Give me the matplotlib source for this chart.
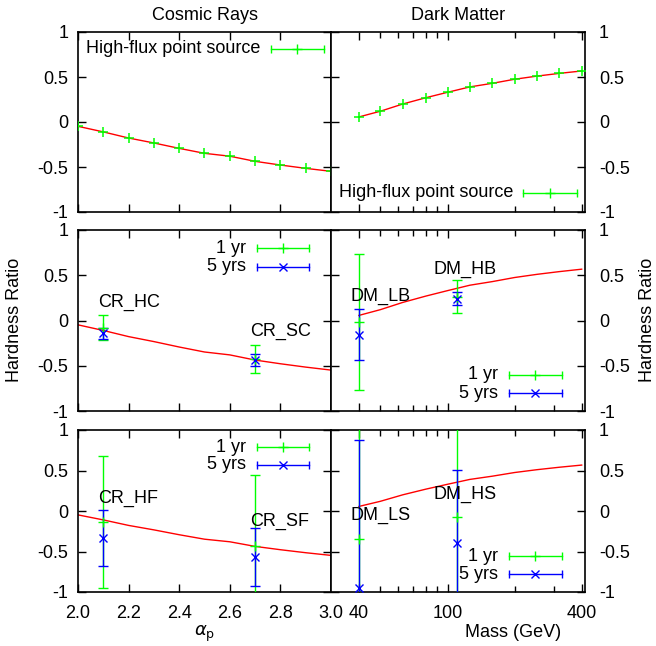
import numpy as np
import matplotlib
matplotlib.use('Agg')
import matplotlib.pyplot as plt
from matplotlib.ticker import FixedLocator, NullFormatter

plt.rcParams['font.family'] = ['Liberation Sans', 'DejaVu Sans']
plt.rcParams['font.size'] = 13
plt.rcParams['axes.unicode_minus'] = False

# high-flux point source curves
alpha_p = [2.0, 2.1, 2.2, 2.3, 2.4, 2.5, 2.6, 2.7, 2.8, 2.9, 3.0]
hr_cr = [-0.048, -0.11, -0.178, -0.233, -0.293, -0.348, -0.38, -0.437, -0.478, -0.515, -0.548]
mass = [40, 50, 63, 80, 100, 126, 159, 200, 252, 317, 400]
hr_dm = [0.056, 0.12, 0.20, 0.27, 0.33, 0.39, 0.43, 0.475, 0.51, 0.54, 0.567]

# benchmark sources
cr_x = [2.1, 2.7]
cr_c_names = ['CR_HC', 'CR_SC']
cr_c_1yr = [-0.08, -0.425]
cr_c_1yr_err = [0.137, 0.155]
cr_c_5yr = [-0.14, -0.435]
cr_c_5yr_err = [0.06, 0.065]

cr_f_names = ['CR_HF', 'CR_SF']
cr_f_1yr = [-0.14, -0.43]
cr_f_1yr_err = [0.815, 0.88]
cr_f_5yr = [-0.33, -0.57]
cr_f_5yr_err = [0.345, 0.36]

dm_x = [40, 110]
dm_b_names = ['DM_LB', 'DM_HB']
dm_b_1yr = [-0.02, 0.265]
dm_b_1yr_err = [0.75, 0.185]
dm_b_5yr = [-0.155, 0.24]
dm_b_5yr_err = [0.285, 0.07]

dm_s_names = ['DM_LS', 'DM_HS']
dm_s_1yr = [-0.34, -0.08]
dm_s_1yr_err = [1.6, 1.3]
dm_s_5yr = [-0.95, -0.40]
dm_s_5yr_err = [1.83, 0.906]

GREEN = '#00ff00'
BLUE = '#0000ff'
RED = '#ff0000'

W, H = 656, 646
fig = plt.figure(figsize=(W / 100, H / 100), dpi=100)


def axes_px(x0, x1, y0, y1):
    return fig.add_axes([x0 / W, 1 - y1 / H, (x1 - x0) / W, (y1 - y0) / H])


rows = [(32, 212), (230, 411), (430, 592)]
left_axes = [axes_px(78, 331, r0, r1) for r0, r1 in rows]
right_axes = [axes_px(331, 585, r0, r1) for r0, r1 in rows]

yt = [-1, -0.5, 0, 0.5, 1]
ytl = ['-1', '-0.5', '0', '0.5', '1']

for i, ax in enumerate(left_axes):
    ax.set_xlim(2.0, 3.0)
    ax.set_ylim(-1, 1)
    ax.set_xticks(np.arange(2.0, 3.01, 0.2))
    ax.set_xticklabels(['2.0', '2.2', '2.4', '2.6', '2.8', '3.0'])
    ax.set_yticks(yt)
    ax.set_yticklabels(ytl)
    ax.tick_params(direction='in', top=True, right=True, length=6, width=1)
    ax.tick_params(axis='y', pad=7)
    ax.tick_params(axis='x', pad=9)
    if i < 2:
        ax.tick_params(labelbottom=False)
    ax.plot(alpha_p, hr_cr, color=RED, lw=1, zorder=2)

for i, ax in enumerate(right_axes):
    ax.set_xscale('log')
    ax.set_xlim(30, 414)
    ax.set_ylim(-1, 1)
    ax.xaxis.set_major_locator(FixedLocator([40, 100, 400]))
    ax.xaxis.set_minor_locator(FixedLocator([50, 60, 70, 80, 90, 200, 300]))
    ax.xaxis.set_minor_formatter(NullFormatter())
    ax.set_xticklabels(['40', '100', '400'])
    ax.set_yticks(yt)
    ax.set_yticklabels(ytl)
    ax.tick_params(which='both', direction='in', top=True, left=True, right=True,
                   labelleft=False, labelright=True, width=1)
    ax.tick_params(which='major', length=6)
    ax.tick_params(which='minor', length=4)
    ax.tick_params(axis='y', pad=10)
    ax.tick_params(axis='x', pad=9)
    if i < 2:
        ax.tick_params(labelbottom=False)
    ax.plot(mass, hr_dm, color=RED, lw=1, zorder=2)

for ax in left_axes + right_axes:
    for s in ax.spines.values():
        s.set_linewidth(1.2)


def key(ax, y, label, color, marker, ms, tx, x0, x1):
    ax.text(tx, y, label, transform=ax.transAxes, ha='right', va='center')
    ax.plot([x0, x1], [y, y], color=color, lw=1, transform=ax.transAxes)
    ax.plot([x0, x1], [y, y], ls='none', marker='|', ms=6, mew=1, color=color,
            transform=ax.transAxes)
    ax.plot([(x0 + x1) / 2], [y], ls='none', marker=marker, ms=ms, mew=1,
            color=color, transform=ax.transAxes)


def bars(ax, x, y, err, color, marker, ms):
    ax.errorbar(x, y, yerr=err, fmt=marker, color=color, ms=ms, mew=1,
                elinewidth=1, capsize=3.5, capthick=1, zorder=3)


# top row: high-flux point source
ax = left_axes[0]
ax.plot(alpha_p, hr_cr, ls='none', marker='+', ms=7, mew=1.1, color=GREEN, zorder=3)
key(ax, 0.906, 'High-flux point source', GREEN, '+', 7, 0.72, 0.763, 0.972)
ax.set_title('Cosmic Rays', fontsize=13, pad=9)

ax = right_axes[0]
ax.plot(mass, hr_dm, ls='none', marker='+', ms=7, mew=1.1, color=GREEN, zorder=3)
key(ax, 0.106, 'High-flux point source', GREEN, '+', 7, 0.717, 0.756, 0.969)
ax.set_title('Dark Matter', fontsize=13, pad=9)

# middle row
ax = left_axes[1]
bars(ax, cr_x, cr_c_1yr, cr_c_1yr_err, GREEN, '+', 7)
bars(ax, cr_x, cr_c_5yr, cr_c_5yr_err, BLUE, 'x', 6)
key(ax, 0.90, '1 yr', GREEN, '+', 7, 0.664, 0.708, 0.913)
key(ax, 0.796, '5 yrs', BLUE, 'x', 6, 0.664, 0.708, 0.913)
ax.text(2.08, 0.2, cr_c_names[0], va='center')
ax.text(2.68, -0.12, cr_c_names[1], va='center')

ax = right_axes[1]
bars(ax, dm_x, dm_b_1yr, dm_b_1yr_err, GREEN, '+', 7)
bars(ax, dm_x, dm_b_5yr, dm_b_5yr_err, BLUE, 'x', 6)
key(ax, 0.199, '1 yr', GREEN, '+', 7, 0.657, 0.70, 0.909)
key(ax, 0.099, '5 yrs', BLUE, 'x', 6, 0.657, 0.70, 0.909)
ax.text(36.6, 0.27, dm_b_names[0], va='center')
ax.text(86.1, 0.56, dm_b_names[1], va='center')

# bottom row
ax = left_axes[2]
bars(ax, cr_x, cr_f_1yr, cr_f_1yr_err, GREEN, '+', 7)
bars(ax, cr_x, cr_f_5yr, cr_f_5yr_err, BLUE, 'x', 6)
key(ax, 0.895, '1 yr', GREEN, '+', 7, 0.664, 0.708, 0.913)
key(ax, 0.784, '5 yrs', BLUE, 'x', 6, 0.664, 0.708, 0.913)
ax.text(2.08, 0.16, cr_f_names[0], va='center')
ax.text(2.68, -0.13, cr_f_names[1], va='center')
ax.set_xlabel(r'$\alpha_{\rm p}$', fontsize=13, labelpad=2)

ax = right_axes[2]
bars(ax, dm_x, dm_s_1yr, dm_s_1yr_err, GREEN, '+', 7)
bars(ax, dm_x, dm_s_5yr, dm_s_5yr_err, BLUE, 'x', 6)
key(ax, 0.222, '1 yr', GREEN, '+', 7, 0.657, 0.70, 0.909)
key(ax, 0.111, '5 yrs', BLUE, 'x', 6, 0.657, 0.70, 0.909)
ax.text(36.6, -0.06, dm_s_names[0], va='center')
ax.text(86.1, 0.21, dm_s_names[1], va='center')
ax.set_xlabel('Mass (GeV)', fontsize=13, labelpad=2)
ax.xaxis.set_label_coords(0.717, -0.2)

fig.text(15 / W, 1 - 320 / H, 'Hardness Ratio', rotation=90, ha='center', va='center')
fig.text(648 / W, 1 - 320 / H, 'Hardness Ratio', rotation=90, ha='center', va='center')

fig.savefig('out.png', dpi=100)
